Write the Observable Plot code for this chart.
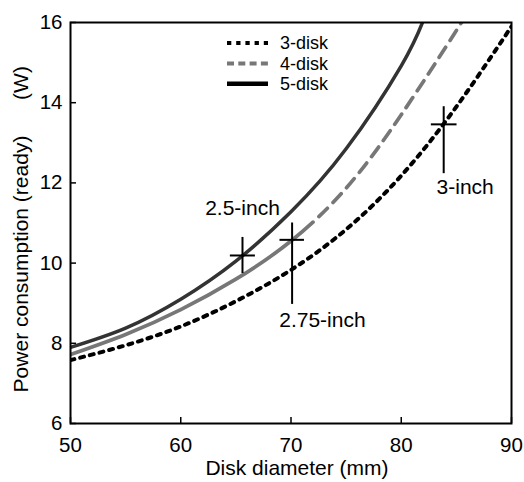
<!DOCTYPE html>
<html>
<head>
<meta charset="utf-8">
<script src="https://cdn.jsdelivr.net/npm/d3@7"></script>
<script src="https://cdn.jsdelivr.net/npm/@observablehq/plot@0.6"></script>
<style>
  body { margin: 0; background: #fff; }
  #wrap { position: relative; width: 524px; height: 482px; font-family: "Liberation Sans", Arial, sans-serif; }
  #legend { position: absolute; left: 225px; top: 31px; }
</style>
</head>
<body>
<div id="wrap"></div>
<script>
// ---- data ----
const seriesNames = ["3-disk", "4-disk", "5-disk"];

const diameter3 = [50, 55, 60, 65, 70, 75, 80, 85, 90];
const power3    = [7.58, 7.95, 8.42, 9.05, 9.83, 10.84, 12.18, 13.9, 15.9];

const diameter4 = [50, 55, 60, 65, 70, 75, 80, 85, 86];
const power4    = [7.72, 8.22, 8.84, 9.6, 10.55, 11.87, 13.7, 15.8, 16.25];
const solidUntil4 = 72; // 4-disk curve is drawn solid up to this diameter, dashed after

const diameter5 = [50, 55, 60, 65, 70, 75, 80, 82];
const power5    = [7.9, 8.38, 9.1, 10.05, 11.28, 12.85, 14.92, 16.05];

const markerNames = ["2.5-inch", "2.75-inch", "3-inch"];
const markerX     = [65.6, 70.1, 83.85];
const markerY     = [10.19, 10.58, 13.46];
const markerX1    = [64.5, 69.0, 82.73];
const markerX2    = [66.77, 71.22, 85.06];
const markerYLow  = [9.74, 8.97, 12.23];
const markerYHigh = [10.64, 11.0, 13.9];
const labelX      = [65.6, 72.85, 85.8];
const labelY      = [11.36, 8.57, 11.9];

const xTicks = [50, 60, 70, 80, 90];
const yTicks = [6, 8, 10, 12, 14, 16];
const xDomain = [50, 90];
const yDomain = [6, 16];
const xLabel = "Disk diameter (mm)";
const yLabel = "Power consumption (ready)";
const yUnit = "(W)";

// ---- build tables ----
const toRows = (xs, ys) => xs.map((x, i) => ({x, y: ys[i]}));
const rows3 = toRows(diameter3, power3);
const rows4 = toRows(diameter4, power4);
const rows5 = toRows(diameter5, power5);
const markers = markerNames.map((name, i) => ({
  name, x: markerX[i], y: markerY[i], x1: markerX1[i], x2: markerX2[i],
  y1: markerYLow[i], y2: markerYHigh[i], lx: labelX[i], ly: labelY[i]
}));

const W = 524, H = 482;
const mL = 70, mR = 13, mT = 22, mB = 59;
const tickPx = 6;
const tickLenY = tickPx * (yDomain[1] - yDomain[0]) / (H - mT - mB);
const tickLenX = tickPx * (xDomain[1] - xDomain[0]) / (W - mL - mR);
const fsTick = 20.5, fsText = 21, fsTitle = 21, fsLegend = 18;
const font = "'Liberation Sans', Arial, sans-serif";

const chart = Plot.plot({
  width: W, height: H,
  marginLeft: mL, marginRight: mR, marginTop: mT, marginBottom: mB,
  style: {fontFamily: font, fontSize: fsText + "px", color: "#000", background: "#fff"},
  x: {domain: xDomain, axis: null},
  y: {domain: yDomain, axis: null},
  marks: [
    // tick labels
    Plot.text(xTicks, {x: d => d, text: d => String(d), frameAnchor: "bottom", lineAnchor: "middle", textAnchor: "middle", dy: 22, fontSize: fsTick, fill: "#000"}),
    Plot.text(yTicks, {y: d => d, text: d => String(d), frameAnchor: "left", lineAnchor: "middle", textAnchor: "end", dx: -8, fontSize: fsTick, fill: "#000"}),
    // inward tick marks
    Plot.ruleX(xTicks, {x: d => d, y1: yDomain[0], y2: yDomain[0] + tickLenY, stroke: "#000", strokeWidth: 1.5}),
    Plot.ruleY(yTicks, {y: d => d, x1: xDomain[0], x2: xDomain[0] + tickLenX, stroke: "#000", strokeWidth: 1.5}),
    // curves
    Plot.line(rows3, {x: "x", y: "y", curve: "natural", stroke: "#000", strokeWidth: 4, strokeDasharray: "4,6", clip: true}),
    Plot.line(rows4, {x: "x", y: "y", curve: "natural", stroke: "#777", strokeWidth: 3.7, clip: true, className: "disk4"}),
    Plot.line(rows5, {x: "x", y: "y", curve: "natural", stroke: "#333", strokeWidth: 3.5, clip: true}),
    // crosshair markers
    Plot.ruleX(markers, {x: "x", y1: "y1", y2: "y2", stroke: "#000", strokeWidth: 2}),
    Plot.ruleY(markers, {y: "y", x1: "x1", x2: "x2", stroke: "#000", strokeWidth: 2}),
    Plot.text(markers, {x: "lx", y: "ly", text: "name", fontSize: fsText, fill: "#000"}),
    // axis titles
    Plot.text([xLabel], {frameAnchor: "bottom", lineAnchor: "middle", textAnchor: "middle", dy: 45, dx: 6, fontSize: fsTitle, fill: "#000"}),
    Plot.text([yLabel], {frameAnchor: "left", lineAnchor: "middle", textAnchor: "middle", rotate: -90, dx: -49, dy: 41, fontSize: fsTitle, fill: "#000"}),
    Plot.text([yUnit], {frameAnchor: "left", lineAnchor: "middle", textAnchor: "middle", rotate: -90, dx: -49, dy: -140, fontSize: fsTitle, fill: "#000"}),
    Plot.frame({stroke: "#000", strokeWidth: 2})
  ]
});

const wrap = document.getElementById("wrap");
wrap.appendChild(chart);

// 4-disk: solid up to solidUntil4, then dashed (one continuous path)
(function () {
  const p = chart.querySelector(".disk4 path");
  if (!p || !p.getTotalLength) return;
  const total = p.getTotalLength();
  const xStop = chart.scale("x").apply(solidUntil4);
  let lo = 0, hi = total;
  for (let k = 0; k < 40; k++) {
    const mid = (lo + hi) / 2;
    if (p.getPointAtLength(mid).x < xStop) lo = mid; else hi = mid;
  }
  const parts = [lo.toFixed(1)];
  for (let s = lo; s < total + 40; s += 20) parts.push(8, 12);
  p.setAttribute("stroke-dasharray", parts.join(","));
})();

// ---- legend (SVG overlay inside the plot area) ----
const legendStyles = [
  {stroke: "#000", width: 4, dash: "4.3,4.9"},
  {stroke: "#777", width: 4, dash: "7,4.3"},
  {stroke: "#000", width: 4.5, dash: null}
];
const rowStep = 20.4;
const ns = "http://www.w3.org/2000/svg";
const lg = document.createElementNS(ns, "svg");
lg.setAttribute("id", "legend");
lg.setAttribute("width", 130);
lg.setAttribute("height", 66);
seriesNames.forEach((name, i) => {
  const cy = 12 + i * rowStep;
  const line = document.createElementNS(ns, "line");
  line.setAttribute("x1", 2); line.setAttribute("x2", 43);
  line.setAttribute("y1", cy); line.setAttribute("y2", cy);
  line.setAttribute("stroke", legendStyles[i].stroke);
  line.setAttribute("stroke-width", legendStyles[i].width);
  if (legendStyles[i].dash) line.setAttribute("stroke-dasharray", legendStyles[i].dash);
  lg.appendChild(line);
  const t = document.createElementNS(ns, "text");
  t.setAttribute("x", 55);
  t.setAttribute("y", cy + 0.35 * fsLegend);
  t.setAttribute("font-size", fsLegend);
  t.setAttribute("font-family", font);
  t.textContent = name;
  lg.appendChild(t);
});
wrap.appendChild(lg);
</script>
</body>
</html>
